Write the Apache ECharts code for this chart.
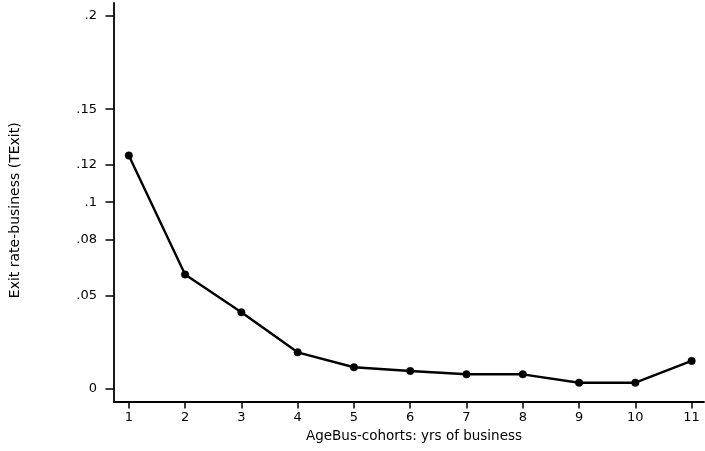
<!DOCTYPE html>
<html>
<head>
<meta charset="utf-8">
<script src="https://cdn.jsdelivr.net/npm/echarts@6/dist/echarts.min.js"></script>
<style>
  html, body { margin: 0; padding: 0; background: #fff; }
  #chart { width: 705px; height: 451px; }
</style>
</head>
<body>
<div id="chart"></div>
<script>
// Business age cohorts (years) and their exit rates
const cohorts = [1, 2, 3, 4, 5, 6, 7, 8, 9, 10, 11];
const exitRate = [0.1251, 0.0612, 0.0409, 0.0194, 0.0114, 0.0094, 0.0076, 0.0076, 0.0031, 0.0031, 0.0148];
const yTicks = [0, 0.05, 0.08, 0.1, 0.12, 0.15, 0.2];
const xTicks = cohorts;

const FONT = 'DejaVu Sans';
const INK = '#000';

const chart = echarts.init(document.getElementById('chart'), null, { renderer: 'canvas' });

chart.setOption({
  animation: false,
  backgroundColor: '#fff',
  grid: { left: 114, right: 1, top: 3, bottom: 49.5 },
  xAxis: {
    type: 'value',
    min: 0.737,
    max: 11.22,
    name: 'AgeBus-cohorts: yrs of business',
    nameLocation: 'middle',
    nameGap: 26,
    nameTextStyle: { fontFamily: FONT, fontSize: 13.5, color: INK, padding: [0, 0, 0, 10] },
    axisLine: { show: true, onZero: false, lineStyle: { color: INK, width: 1.8 } },
    axisTick: { show: true, customValues: xTicks, length: 7, lineStyle: { color: INK, width: 1.5 } },
    axisLabel: {
      customValues: xTicks, margin: 10,
      fontFamily: FONT, fontSize: 13, color: INK
    },
    splitLine: { show: false }
  },
  yAxis: {
    type: 'value',
    min: -0.007,
    max: 0.207,
    name: 'Exit rate-business (TExit)',
    nameLocation: 'middle',
    nameRotate: 90,
    nameGap: 92,
    nameTextStyle: { fontFamily: FONT, fontSize: 14, color: INK, padding: [0, 16, 0, 0] },
    axisLine: { show: true, onZero: false, lineStyle: { color: INK, width: 1.8 } },
    axisTick: { show: true, customValues: yTicks, length: 8.5, lineStyle: { color: INK, width: 1.5 } },
    axisLabel: {
      customValues: yTicks, margin: 17,
      fontFamily: FONT, fontSize: 13, color: INK,
      formatter: v => (v === 0 ? '0' : String(+v.toFixed(2)).replace(/^0\./, '.'))
    },
    splitLine: { show: false }
  },
  series: [{
    type: 'line',
    data: cohorts.map((c, i) => [c, exitRate[i]]),
    symbol: 'circle',
    symbolSize: 7.5,
    showAllSymbol: true,
    lineStyle: { color: INK, width: 2.4 },
    itemStyle: { color: INK, borderColor: INK, borderWidth: 0.5 },
    emphasis: { disabled: true }
  }]
});
</script>
</body>
</html>
